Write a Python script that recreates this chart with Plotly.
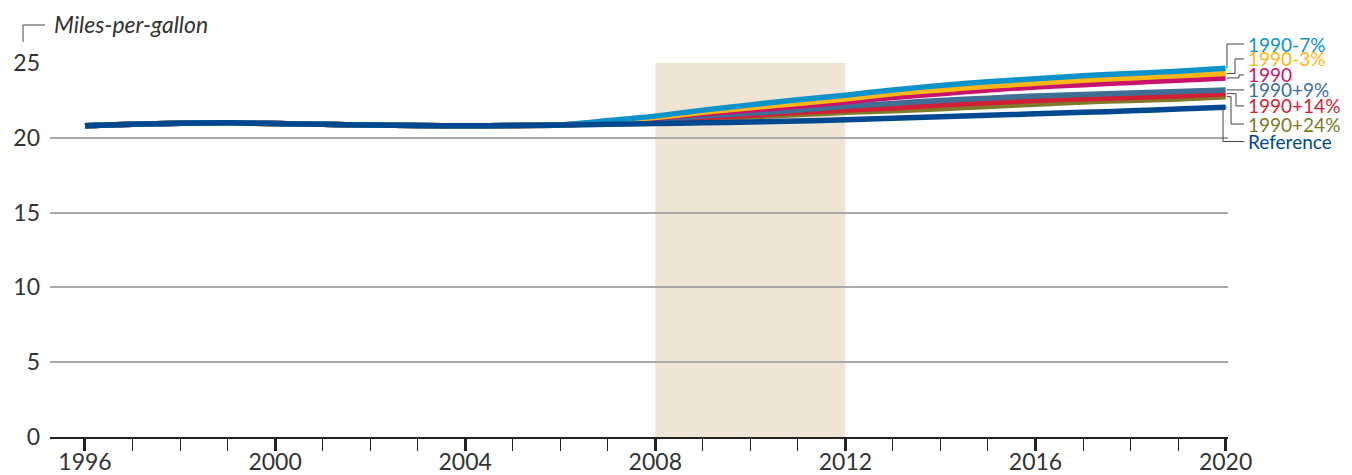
import plotly.graph_objects as go

years = list(range(1996, 2021))

base = [20.8, 20.9, 20.98, 21.0, 20.95, 20.9, 20.85, 20.82, 20.8, 20.82, 20.86]  # 1996-2006

ref_tail = [20.9, 20.95, 21.0, 21.05, 21.12, 21.2, 21.3, 21.4, 21.5, 21.6, 21.7, 21.8, 21.92, 22.05]
m7_tail = [21.15, 21.45, 21.85, 22.2, 22.55, 22.85, 23.2, 23.5, 23.75, 23.95, 24.15, 24.3, 24.45, 24.65]
m3_tail = [21.1, 21.35, 21.7, 22.0, 22.3, 22.6, 22.95, 23.2, 23.45, 23.65, 23.85, 24.0, 24.15, 24.3]
y1990_tail = [21.05, 21.3, 21.6, 21.85, 22.1, 22.4, 22.7, 22.95, 23.2, 23.4, 23.55, 23.7, 23.85, 24.0]
p9_tail = [21.0, 21.2, 21.45, 21.65, 21.85, 22.1, 22.3, 22.5, 22.65, 22.8, 22.9, 23.0, 23.1, 23.2]
p14_tail = [21.0, 21.15, 21.35, 21.5, 21.7, 21.85, 22.0, 22.2, 22.35, 22.5, 22.6, 22.7, 22.8, 22.95]
p24_tail = [20.95, 21.1, 21.25, 21.4, 21.55, 21.7, 21.8, 21.95, 22.1, 22.25, 22.4, 22.5, 22.6, 22.75]

series_names = ["1990+24%", "1990+14%", "1990+9%", "1990", "1990-3%", "1990-7%", "Reference"]
series_tails = [p24_tail, p14_tail, p9_tail, y1990_tail, m3_tail, m7_tail, ref_tail]
series_colors = ["#7d7a2a", "#d21f36", "#3f6f95", "#c7126e", "#fdb714", "#0b93ca", "#00488f"]

# label y positions (data units) and leader elbow x (pixels)
label_y = {"1990-7%": 26.27, "1990-3%": 25.27, "1990": 24.2, "1990+9%": 23.2,
           "1990+14%": 22.13, "1990+24%": 20.92, "Reference": 19.75}
elbow_px = {"1990-7%": 1227, "1990-3%": 1235, "1990": 1239, "1990+9%": 1239,
            "1990+14%": 1236, "1990+24%": 1231, "Reference": 1223}

shade = (2008, 2012)
font = "Lato"

# geometry
L, R, T, B = 50, 124, 63, 38
W, H = 1352, 475
pw = W - L - R
ph = H - T - B
xrange_ = [1995.264, 2020.05]
yrange_ = [0, 25]


def px_to_paper_x(px):
    return (px - L) / pw


def yval_to_paper(v):
    return (v - yrange_[0]) / (yrange_[1] - yrange_[0])


def year_to_px(yr):
    return L + (yr - xrange_[0]) / (xrange_[1] - xrange_[0]) * pw


fig = go.Figure()

fig.add_shape(type="rect", xref="x", yref="y", x0=shade[0], x1=shade[1], y0=0, y1=25,
              fillcolor="#efe5d5", line_width=0, layer="below")

for name, tail, color in zip(series_names, series_tails, series_colors):
    vals = base + tail
    fig.add_trace(go.Scatter(x=years, y=vals, mode="lines", name=name,
                             line=dict(color=color, width=5.5, shape="spline", smoothing=0.6),
                             showlegend=False, hoverinfo="skip"))

# labels and leader lines
end_px = year_to_px(years[-1])
label_px = 1246
for name, tail, color in zip(series_names, series_tails, series_colors):
    yend = yval_to_paper(tail[-1])
    ly = yval_to_paper(label_y[name])
    ex = elbow_px[name]
    x0p = px_to_paper_x(end_px + 1)
    exp_ = px_to_paper_x(ex)
    lxp = px_to_paper_x(label_px - 2)
    for (xa, ya, xb, yb) in [(x0p, yend, exp_, yend), (exp_, yend, exp_, ly), (exp_, ly, lxp, ly)]:
        fig.add_shape(type="line", xref="paper", yref="paper", x0=xa, y0=ya, x1=xb, y1=yb,
                      line=dict(color="#444444", width=1), layer="above")
    fig.add_annotation(xref="paper", yref="paper", x=px_to_paper_x(label_px), y=ly, text=name,
                       showarrow=False, xanchor="left", yanchor="middle",
                       font=dict(family=font, size=19, color=color))

# title with bracket
fig.add_annotation(xref="paper", yref="paper", x=px_to_paper_x(52), y=(H - B - 24) / ph,
                   text="<i>Miles-per-gallon</i>", showarrow=False, xanchor="left", yanchor="middle",
                   font=dict(family=font, size=23, color="#333333"))
fig.add_shape(type="path", xref="paper", yref="paper",
              path="M {x1},{y1} L {x1},{y0} L {x2},{y0}".format(
                  x1=px_to_paper_x(23), y1=(H - B - 42) / ph, y0=(H - B - 25) / ph, x2=px_to_paper_x(45)),
              line=dict(color="#444444", width=1))

fig.update_layout(
    width=W, height=H,
    margin=dict(l=L, r=R, t=T, b=B, autoexpand=False),
    plot_bgcolor="white", paper_bgcolor="white",
    font=dict(family=font, size=22, color="#333333"),
)
fig.update_xaxes(range=xrange_, tick0=1996, dtick=4, ticks="outside", ticklen=12, tickwidth=3,
                 tickcolor="#222222", showline=True, linecolor="#222222", linewidth=2,
                 showgrid=False, zeroline=False, automargin=False, ticklabelstandoff=-9,
                 tickfont=dict(family=font, size=23, color="#333333"),
                 minor=dict(dtick=1, tick0=1996, ticks="outside", ticklen=12, tickwidth=1,
                            tickcolor="#222222", showgrid=False))
fig.update_yaxes(range=yrange_, tick0=0, dtick=5, showgrid=True, gridcolor="#a8a8a8", gridwidth=1.5,
                 zeroline=False, showline=False, ticks="", automargin=False, ticklabelstandoff=9,
                 tickfont=dict(family=font, size=23, color="#333333"))

fig.write_html("out.html", post_script="document.body.style.margin='0';",
               config={"displayModeBar": False})
